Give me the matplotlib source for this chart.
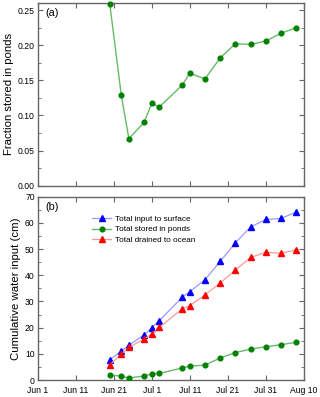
import matplotlib
matplotlib.use("Agg")
import matplotlib.pyplot as plt
from matplotlib.ticker import MultipleLocator

plt.rcParams['font.family'] = ['Liberation Sans', 'DejaVu Sans']

# days since Jun 1 (Jun 1 = 0)
days = [19, 22, 24, 28, 30, 32, 38, 40, 44, 48, 52, 56, 60, 64, 68]
fraction = [0.258, 0.129, 0.067, 0.090, 0.117, 0.112, 0.143, 0.160, 0.152,
            0.182, 0.202, 0.201, 0.206, 0.217, 0.225]
total_input = [7.7, 11.0, 13.3, 17.2, 19.9, 22.7, 31.6, 33.7, 38.3, 45.3,
               52.4, 58.5, 61.3, 61.7, 64.2]
stored = [2.0, 1.4, 0.8, 1.5, 2.3, 2.5, 4.6, 5.3, 5.7, 8.4, 10.5, 11.8,
          12.7, 13.5, 14.4]
drained = [5.8, 9.9, 12.5, 15.6, 17.6, 20.1, 27.1, 28.4, 32.5, 37.1, 42.0,
           46.8, 48.8, 48.4, 49.7]
xtick_pos = [0, 10, 20, 30, 40, 50, 60, 70]
xtick_labels = ['Jun 1', 'Jun 11', 'Jun 21', 'Jul 1', 'Jul 11', 'Jul 21',
                'Jul 31', 'Aug 10']

W, H = 320, 397
fig = plt.figure(figsize=(W / 100, H / 100), dpi=100)
L, R = 37.5, 304
axa = fig.add_axes([L / W, 1 - 185.7 / H, (R - L) / W, (185.7 - 3) / H])
axb = fig.add_axes([L / W, 1 - 380 / H, (R - L) / W, (380 - 196.7) / H])

spine_c = '#666666'
for ax in (axa, axb):
    for s in ax.spines.values():
        s.set_color(spine_c)
        s.set_linewidth(1.0)
    ax.set_xlim(0, 70)
    ax.set_xticks(xtick_pos)
    ax.tick_params(which='both', direction='in', top=True, right=True,
                   color=spine_c, labelsize=6.2, pad=2)
    ax.tick_params(axis='x', pad=4.5)
    ax.tick_params(which='major', length=3.5)
    ax.tick_params(which='minor', length=2)

axa.set_xticklabels([])
axb.set_xticklabels(xtick_labels)

green_line = '#66bb66'
green_mk = '#008000'

axa.plot(days, fraction, '-', color=green_line, lw=1.0, marker='o', ms=3.4,
         mfc=green_mk, mec=green_mk, clip_on=False, zorder=3)
axa.set_ylim(0, 0.26)
axa.yaxis.set_major_locator(MultipleLocator(0.05))
axa.yaxis.set_minor_locator(MultipleLocator(0.025))
axa.set_yticks([0, 0.05, 0.10, 0.15, 0.20, 0.25])
axa.set_yticklabels(['0.00', '0.05', '0.10', '0.15', '0.20', '0.25'])
axa.set_ylabel('Fraction stored in ponds', fontsize=8.2, labelpad=3)
axa.text(0.028, 0.945, '(a)', transform=axa.transAxes, fontsize=7.8,
         va='center', ha='left')

axb.plot(days, total_input, '-', color='#9999ff', lw=0.9, marker='^', ms=3.9,
         mfc='#0000ff', mec='#0000ff', label='Total input to surface', zorder=3)
axb.plot(days, stored, '-', color=green_line, lw=1.0, marker='o', ms=3.4,
         mfc=green_mk, mec=green_mk, label='Total stored in ponds', zorder=3)
axb.plot(days, drained, '-', color='#ff9999', lw=0.9, marker='^', ms=3.9,
         mfc='#ff0000', mec='#ff0000', label='Total drained to ocean', zorder=3)
axb.set_ylim(0, 70)
axb.yaxis.set_major_locator(MultipleLocator(10))
axb.yaxis.set_minor_locator(MultipleLocator(5))
axb.set_ylabel('Cumulative water input (cm)', fontsize=8.2, labelpad=3)
axb.text(0.028, 0.945, '(b)', transform=axb.transAxes, fontsize=7.8,
         va='center', ha='left')
axb.legend(loc='upper left', bbox_to_anchor=(0.205, 0.90), frameon=False,
           fontsize=5.9, handlelength=2.3, handletextpad=0.45,
           labelspacing=0.35, borderaxespad=0, borderpad=0)

fig.savefig('out.png', dpi=100)
